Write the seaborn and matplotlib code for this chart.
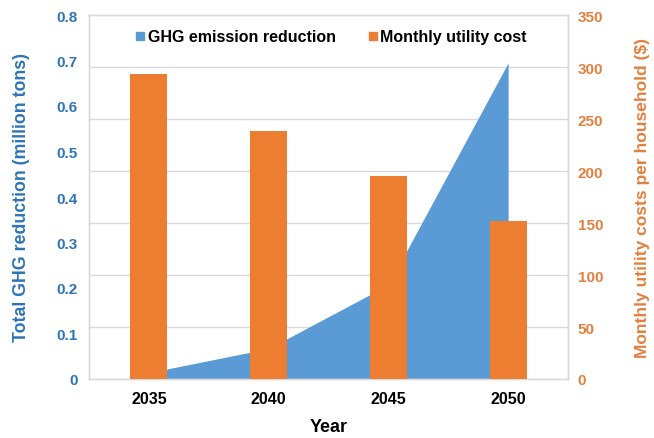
import numpy as np
import pandas as pd
import matplotlib
matplotlib.use("Agg")
import matplotlib.pyplot as plt
from matplotlib.lines import Line2D
import seaborn as sns

# Data
years = ["2035", "2040", "2045", "2050"]
ghg_reduction = [0.014, 0.067, 0.207, 0.695]      # million tons
utility_cost = [293, 238, 195, 152]               # $ per household per month
left_ticks = [0, 0.1, 0.2, 0.3, 0.4, 0.5, 0.6, 0.7, 0.8]
left_tick_labels = ["0", "0.1", "0.2", "0.3", "0.4", "0.5", "0.6", "0.7", "0.8"]
right_ticks = [0, 50, 100, 150, 200, 250, 300, 350]

BLUE = "#5B9BD5"
ORANGE = "#ED7D31"
BLUE_TXT = "#2E75B6"
ORANGE_TXT = "#E2803E"
GRID = "#D9D9D9"

LEFT_MAX = 0.8
RIGHT_MAX = 350

sns.set_theme(style="white")
plt.rcParams["font.family"] = ["Liberation Sans", "DejaVu Sans"]
plt.rcParams["font.weight"] = "bold"

df = pd.DataFrame({"Year": years, "GHG": ghg_reduction, "Cost": utility_cost})

fig = plt.figure(figsize=(6.54, 4.39), dpi=100)
ax = fig.add_axes([89 / 654, 1 - 380 / 439, (568 - 89) / 654, (380 - 16) / 439])
ax2 = ax.twinx()

# Gridlines follow the right-axis steps, drawn on the bottom axes so they sit under the area
grid_pos = np.array(right_ticks) / RIGHT_MAX * LEFT_MAX
ax.set_yticks(grid_pos, minor=True)
ax.yaxis.grid(True, which="minor", color=GRID, linewidth=1)
ax.yaxis.grid(False, which="major")
ax.set_axisbelow(True)

# Area on the primary (left) axis
xpos = np.arange(len(years))
ax.fill_between(xpos, 0, df["GHG"], color=BLUE, linewidth=0, zorder=2)

# Bars on the secondary (right) axis
sns.barplot(data=df, x="Year", y="Cost", ax=ax2, color=ORANGE, width=0.31,
            saturation=1, linewidth=0, edgecolor=ORANGE, zorder=3)
ax2.grid(False)

ax.set_xlim(-0.5, len(years) - 0.5)
ax2.set_xlim(-0.5, len(years) - 0.5)
ax.set_ylim(0, LEFT_MAX)
ax2.set_ylim(0, RIGHT_MAX)
ax2.set_yticks(right_ticks)

ax.set_zorder(0)
ax2.set_zorder(1)
ax2.patch.set_visible(False)

ax.set_yticks(left_ticks)
ax.set_yticklabels(left_tick_labels)
ax.tick_params(axis="y", which="both", length=0)
ax.tick_params(axis="y", colors=BLUE_TXT, labelsize=11, pad=8)
ax2.tick_params(axis="y", colors=ORANGE_TXT, labelsize=11, length=0, pad=7)
ax.tick_params(axis="x", colors="black", labelsize=11.5, length=0, pad=9)
ax2.tick_params(axis="x", length=0)
for lab in ax.get_yticklabels():
    lab.set_color(BLUE_TXT)
    lab.set_fontweight("bold")
for lab in ax2.get_yticklabels():
    lab.set_color(ORANGE_TXT)
    lab.set_fontweight("bold")

ax.set_xticks(xpos)
ax.set_xticklabels(years, fontweight="bold", color="black")
ax2.set_xlabel("")

ax.set_xlabel("Year", fontsize=13, fontweight="bold", color="black", labelpad=8)
ax.set_ylabel("Total GHG reduction (million tons)", fontsize=12.8,
              fontweight="bold", color=BLUE_TXT, labelpad=19)
ax2.set_ylabel("Monthly utility costs per household ($)", fontsize=12.5,
               fontweight="bold", color=ORANGE_TXT, labelpad=23)
ax2.yaxis.set_label_position("right")

for a in (ax, ax2):
    for s in a.spines.values():
        s.set_color(GRID)
        s.set_linewidth(1)

handles = [
    Line2D([], [], marker="s", linestyle="none", markersize=6,
           markerfacecolor=BLUE, markeredgecolor=BLUE),
    Line2D([], [], marker="s", linestyle="none", markersize=6,
           markerfacecolor=ORANGE, markeredgecolor=ORANGE),
]
leg = ax2.legend(handles, ["GHG emission reduction", "Monthly utility cost"],
                 loc="upper center", bbox_to_anchor=(0.505, 1.0), ncol=2,
                 frameon=False, fontsize=11.5, handletextpad=0.1,
                 columnspacing=2.0, handlelength=0.7)
for t in leg.get_texts():
    t.set_fontweight("bold")
    t.set_color("black")

fig.savefig("out.png", dpi=100)
